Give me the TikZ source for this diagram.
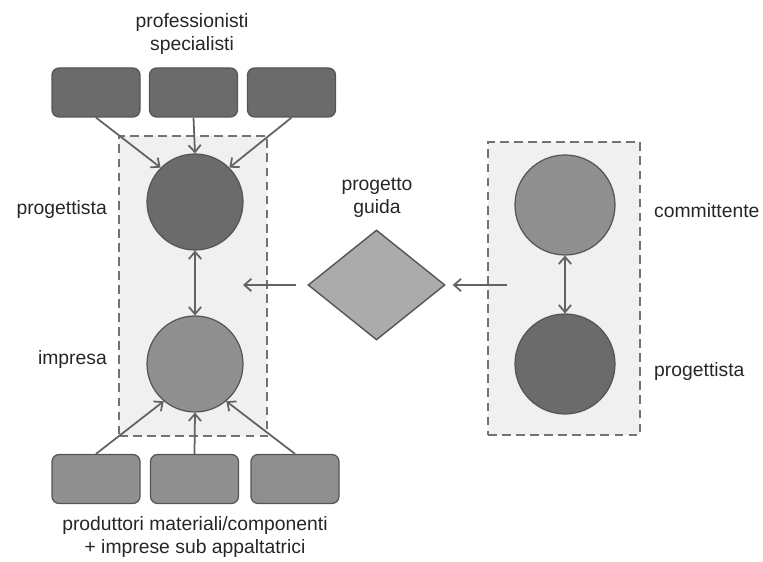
\documentclass[tikz,border=0pt]{standalone}
\usepackage{fontspec}
\setmainfont{Liberation Sans}
\usetikzlibrary{arrows.meta, positioning, shapes.geometric}

\definecolor{scuro}{HTML}{6B6B6B}
\definecolor{medio}{HTML}{8F8F8F}
\definecolor{chiaro}{HTML}{ABABAB}
\definecolor{bordo}{HTML}{555555}
\definecolor{freccia}{HTML}{626262}
\definecolor{sfondo}{HTML}{F0F0F0}

\begin{document}
\begin{tikzpicture}[>={Straight Barb[length=4pt, width=7pt]},
      every node/.style={font=\fontsize{11}{13}\selectfont, text=black!85},
      box/.style={draw=bordo, line width=0.7pt, rounded corners=4pt,
                  minimum width=1.76cm, minimum height=0.98cm},
      boxdark/.style={box, fill=scuro},
      boxlight/.style={box, fill=medio},
      ruolo/.style={circle, draw=bordo, line width=0.7pt, inner sep=0pt},
      panel/.style={draw=black!55, dashed, line width=0.9pt, fill=sfondo,
                    dash pattern=on 5pt off 3pt},
      guida/.style={diamond, draw=bordo, line width=0.8pt, fill=chiaro, inner sep=0pt,
                    minimum width=2.74cm, minimum height=2.2cm},
      lab/.style={align=center},
      link/.style={->, freccia, line width=1pt},
      dlink/.style={<->, freccia, line width=1pt}]

    \useasboundingbox (0,0) rectangle (15.26,11.24);

    % dashed areas
    \node[panel, minimum width=2.96cm, minimum height=6.0cm] (sx) at (3.86, 5.52) {};
    \node[panel, minimum width=3.04cm, minimum height=5.86cm] (dx) at (11.28, 5.47) {};

    % left group: progettista + impresa
    \node[ruolo, fill=scuro, minimum size=1.92cm] (prog) at (3.90, 7.20) {};
    \node[ruolo, fill=medio, minimum size=1.92cm] (imp)  at (3.90, 3.96) {};
    \node[left, align=right] at (2.26, 7.04) {progettista};
    \node[left, align=right] at (2.26, 4.04) {impresa};

    % professionisti specialisti
    \node[boxdark] (ps1) at (1.92, 9.39) {};
    \node[boxdark] (ps2) at (3.87, 9.39) {};
    \node[boxdark] (ps3) at (5.83, 9.39) {};
    \node[lab] (pslab) at (3.84, 10.56) {professionisti\\specialisti};

    % produttori / subappaltatori
    \node[boxlight] (pm1) at (1.92, 1.66) {};
    \node[boxlight] (pm2) at (3.89, 1.66) {};
    \node[boxlight] (pm3) at (5.90, 1.66) {};
    \node[lab] (pmlab) at (3.90, 0.50) {produttori materiali/componenti\\+ imprese sub appaltatrici};

    % right group: committente + progettista
    \node[ruolo, fill=medio, minimum size=2.0cm] (comm)  at (11.30, 7.14) {};
    \node[ruolo, fill=scuro, minimum size=2.0cm] (prog2) at (11.30, 3.96) {};
    \node[right] at (12.96, 7.02) {committente};
    \node[right] at (12.96, 3.80) {progettista};

    % progetto guida
    \node[guida] (pg) at (7.53, 5.54) {};
    \node[lab] (pglab) at (7.54, 7.28) {progetto\\guida};

    \coordinate (insx) at (4.86, 5.54);
    \coordinate (indx) at (10.14, 5.54);

    % connectors
    \draw[link] (ps1.south) -- (prog.135);
    \draw[link] (ps2.south) -- (prog.north);
    \draw[link] (ps3.south) -- (prog.45);
    \draw[link] (pm1.north) -- (imp.230);
    \draw[link] (pm2.north) -- (imp.south);
    \draw[link] (pm3.north) -- (imp.310);
    \draw[dlink] (prog.south) -- (imp.north);
    \draw[dlink] (comm.south) -- (prog2.north);
    \draw[link] ([xshift=-0.22cm]pg.west) -- (insx);
    \draw[link] (indx) -- ([xshift=0.14cm]pg.east);

\end{tikzpicture}
\end{document}
